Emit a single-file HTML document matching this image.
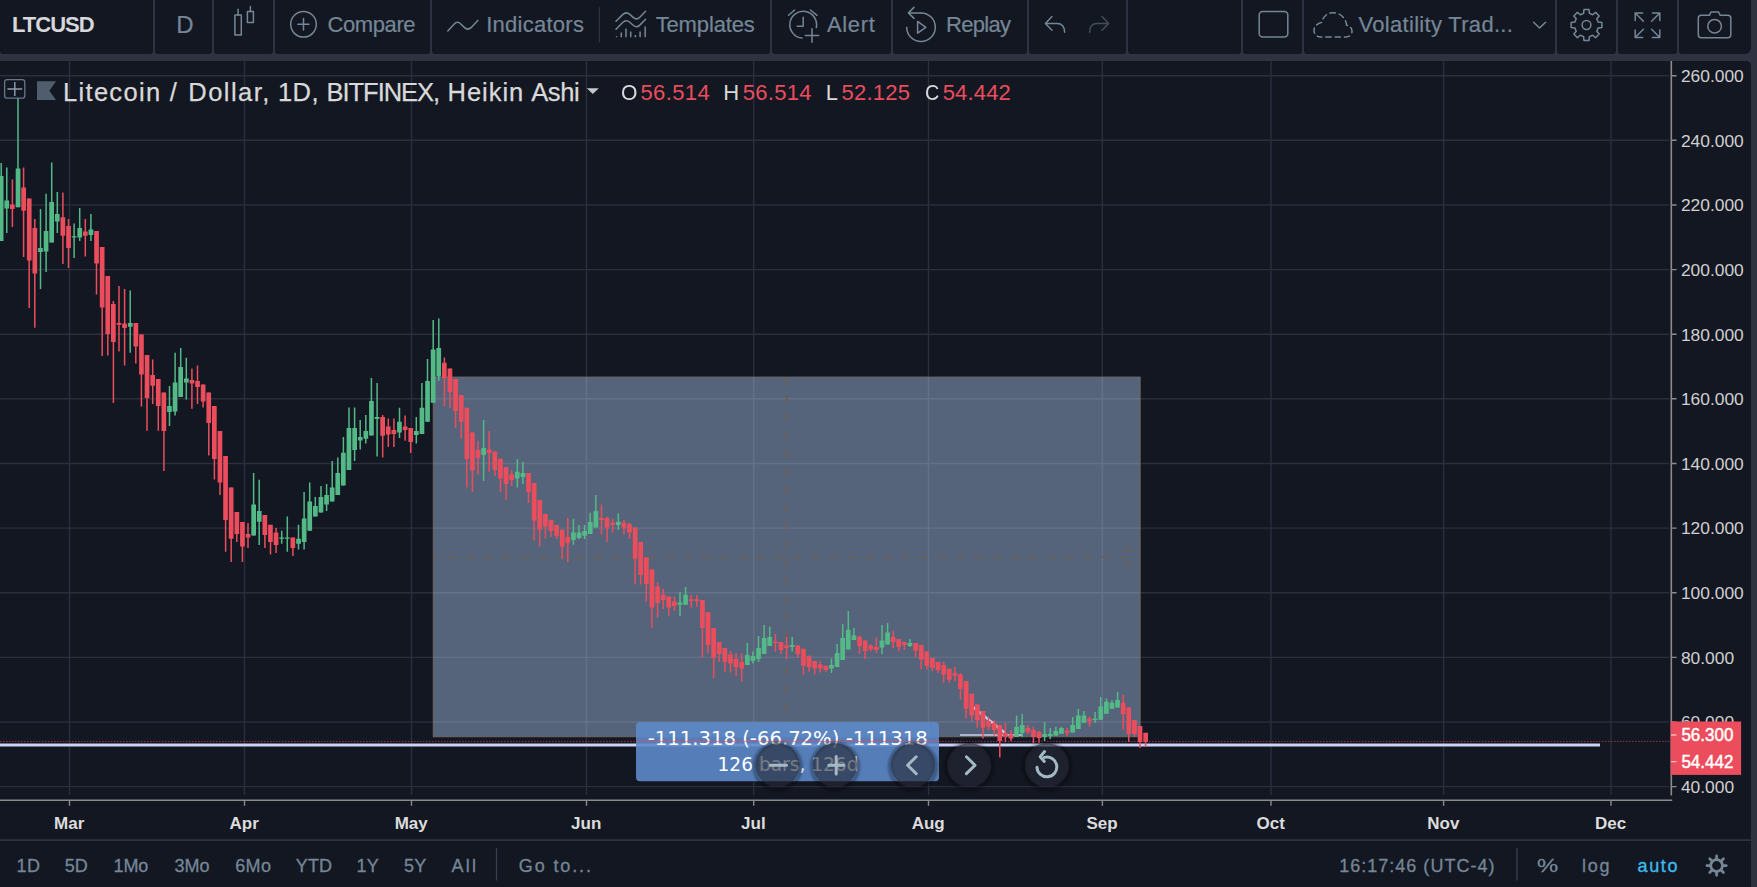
<!DOCTYPE html>
<html lang="en"><head><meta charset="utf-8"><title>LTCUSD chart</title>
<style>
html,body{margin:0;padding:0}
body{width:1757px;height:887px;background:#2f3241;position:relative;overflow:hidden;font-family:"Liberation Sans",sans-serif;}
.p{position:absolute;background:#131722;}
.tb{top:0;height:54px;border-radius:0 0 3px 3px;}
.t{position:absolute;white-space:nowrap;line-height:1;margin:0;padding:0;}
.tt{color:#758696;font-size:21px;-webkit-text-stroke:0.2px #758696;}
.bt{color:#758696;font-size:18px;-webkit-text-stroke:0.3px #758696;}
svg{position:absolute;left:0;top:0;overflow:visible}
.ic{fill:none;stroke:#758696;stroke-width:1.5;stroke-linecap:round;stroke-linejoin:round}
</style></head><body>

<div id="toolbar">
<div class="p tb" style="left:0.0px;width:152.5px;"></div>
<div class="p tb" style="left:154.5px;width:57.2px;"></div>
<div class="p tb" style="left:213.8px;width:58.8px;"></div>
<div class="p tb" style="left:275.0px;width:154.6px;"></div>
<div class="p tb" style="left:432.0px;width:337.5px;"></div>
<div class="p tb" style="left:772.0px;width:118.7px;"></div>
<div class="p tb" style="left:892.6px;width:134.2px;"></div>
<div class="p tb" style="left:1029.0px;width:96.9px;"></div>
<div class="p tb" style="left:1128.0px;width:112.8px;"></div>
<div class="p tb" style="left:1243.0px;width:59.0px;"></div>
<div class="p tb" style="left:1304.0px;width:251.0px;"></div>
<div class="p tb" style="left:1557.2px;width:58.6px;"></div>
<div class="p tb" style="left:1618.0px;width:59.0px;"></div>
<div class="p tb" style="left:1679.0px;width:72.0px;border-radius:0 0 6px 3px;"></div>
<span class="t " id="t_sym" style="left:12.00px;top:14.28px;font-size:22px;letter-spacing:-1.000px;color:#d6d8dc;font-weight:bold;">LTCUSD</span>
<span class="t tt" id="t_d" style="left:176.14px;top:12.58px;font-size:24px;">D</span>
<span class="t tt" id="t_cmp" style="left:327.53px;top:14.08px;font-size:22px;letter-spacing:-0.407px;">Compare</span>
<span class="t tt" id="t_ind" style="left:486.16px;top:14.08px;font-size:22px;letter-spacing:0.270px;">Indicators</span>
<span class="t tt" id="t_tpl" style="left:655.68px;top:14.08px;font-size:22px;letter-spacing:-0.145px;">Templates</span>
<span class="t tt" id="t_alr" style="left:827.00px;top:14.08px;font-size:22px;letter-spacing:0.648px;">Alert</span>
<span class="t tt" id="t_rep" style="left:946.11px;top:14.08px;font-size:22px;letter-spacing:-0.726px;">Replay</span>
<span class="t tt" id="t_vol" style="left:1358.52px;top:14.08px;font-size:22px;letter-spacing:0.306px;">Volatility Trad...</span>
<svg width="1757" height="60" viewBox="0 0 1757 60" class="ic">
<rect x="234.9" y="14.9" width="6.4" height="20.2"/><path d="M238.1 9.3V14.9M250.4 6.5V11.6"/><rect x="247.4" y="11.6" width="6" height="10.9"/>
<circle cx="303.5" cy="24.3" r="12.8"/><path d="M297.9 24.2H309M303.5 18.5V30"/>
<path d="M447.8 31 L454 24.2 Q457.3 20.6 460.8 24 L464.3 27.4 Q467.8 30.8 471.3 27.4 L477.8 20.4"/>
<path d="M599.4 7.7V41.8" stroke="#2f3241" stroke-width="1.3"/>
<path d="M616 21.3 L622.6 14.6 Q626.2 11.2 629.8 14.4 L633.2 17.4 Q636.6 20.4 639.8 17.2 L645.6 11.3"/>
<path d="M616 29.2 L622.6 22.5 Q626.2 19.1 629.8 22.3 L633.2 25.3 Q636.6 28.3 639.8 25.1 L645.6 19.2"/>
<path stroke-linecap="butt" d="M616.6 37.3V36.3M621.3 37.3V32.4M626.0 37.3V28.4M630.7 37.3V31.6M635.4 37.3V35.0M640.1 37.3V31.6M645.2 37.3V26.6"/>
<path d="M816.3 27.6 A13.4 13.4 0 1 0 802.0 38.1"/>
<path d="M803.2 17.2V26.2H797.2M788.5 15.3L794.6 10M810.4 10L817 15.3M805.3 35.6H818.8M812 28.8V42.2"/>
<path d="M921.0 12.9 A14.3 14.3 0 1 1 906.7 27.2"/>
<path d="M921 12.9H908.4M914 7.4L908.4 12.9L914 18.4M917.6 21.4V33.2L925.8 27.3Z"/>
<path d="M1052 16.6L1045.4 23.4L1052 30.2M1045.6 23.4H1057Q1064.6 23.4 1064.6 32.3"/>
<path stroke="#444d5c" d="M1102 16.6L1108.6 23.4L1102 30.2M1108.4 23.4H1097Q1089.6 23.4 1089.6 32.3"/>
<rect x="1259.2" y="11.4" width="28.6" height="25.6" rx="3.5"/>
<path stroke-dasharray="5.4 3.9" stroke-dashoffset="2" d="M1320.5 36.9 C1316.5 36.9 1314 34 1314 30.5 C1314 26.5 1317 23.5 1321.5 22.5 C1323 16.5 1327.5 12.7 1333 12.7 C1340 12.7 1346 18 1346.6 25.2 C1350 26 1352 28.5 1352 31.2 C1352 34.5 1349.5 36.9 1346.5 36.9 Z"/>
<path d="M1533.6 22.3L1539.6 28L1545.6 22.3"/>
<path d="M1583.61 13.35L1583.94 9.61L1589.06 9.61L1589.39 13.35L1592.69 14.72L1595.57 12.31L1599.19 15.93L1596.78 18.81L1598.15 22.11L1601.89 22.44L1601.89 27.56L1598.15 27.89L1596.78 31.19L1599.19 34.07L1595.57 37.69L1592.69 35.28L1589.39 36.65L1589.06 40.39L1583.94 40.39L1583.61 36.65L1580.31 35.28L1577.43 37.69L1573.81 34.07L1576.22 31.19L1574.85 27.89L1571.11 27.56L1571.11 22.44L1574.85 22.11L1576.22 18.81L1573.81 15.93L1577.43 12.31L1580.31 14.72Z"/><circle cx="1586.5" cy="25" r="4.4"/>
<path d="M1635.2 20.4V13H1642.6M1635.2 13L1643.4 21.2 M1652.4 13H1659.8V20.4M1659.8 13L1651.6 21.2 M1635.2 30.1V37.5H1642.6M1635.2 37.5L1643.4 29.3 M1652.4 37.5H1659.8V30.1M1659.8 37.5L1651.6 29.3"/>
<path d="M1701.3 15.3H1709.4L1711 12H1718.6L1720.2 15.3H1727.8Q1730.8 15.3 1730.8 18.3V34.8Q1730.8 37.8 1727.8 37.8H1701.3Q1698.3 37.8 1698.3 34.8V18.3Q1698.3 15.3 1701.3 15.3Z"/><circle cx="1714.6" cy="26.2" r="6.8"/>
</svg>
</div>
<div id="chart" class="p" style="left:0;top:61px;width:1751px;height:779px;border-radius:0 5px 0 0;"></div>
<div id="bottombar" class="p" style="left:0;top:841px;width:1751px;height:46px;"></div>
<svg id="chartsvg" width="1757" height="887" viewBox="0 0 1757 887">
<path d="M69.5 61V795M244.5 61V795M411.5 61V795M586.5 61V795M753.7 61V795M928.5 61V795M1102.4 61V795M1271.0 61V795M1443.6 61V795M1611.0 61V795M0 786.6H1669M0 722.0H1669M0 657.4H1669M0 592.7H1669M0 528.1H1669M0 463.5H1669M0 398.8H1669M0 334.2H1669M0 269.6H1669M0 205.0H1669M0 140.3H1669M0 75.7H1669" stroke="#2a2e3d" stroke-width="1.4" fill="none"/>
<rect x="433.2" y="377" width="707" height="359.8" fill="rgba(186,218,255,0.4)" stroke="rgba(125,110,95,0.75)" stroke-width="1"/>
<path d="M433.2 556.9H1140" stroke="#6a6058" stroke-width="1.9" stroke-dasharray="8 10.15" stroke-dashoffset="3" fill="none"/>
<path d="M786.6 377V722" stroke="#6a6058" stroke-width="1.9" stroke-dasharray="8 10.15" fill="none"/>
<path d="M1124 547.4L1131.5 551.9M1124 566.3L1131.5 561.9" stroke="#6a6058" stroke-width="1.9" fill="none"/>
<path d="M960 735H1022" stroke="#d4dbf3" stroke-width="1.6" fill="none" opacity="0.9"/><path d="M973 707L1004.5 732.5" stroke="#d4dbf3" stroke-width="2.4" fill="none" opacity="0.9"/>
<path d="M0 745H1600" stroke="#ccd2f3" stroke-width="3" fill="none"/>
<path d="M1.2 163.0V241.0M6.8 167.5V233.0M18.0 98.0V207.3M40.5 209.0V289.0M46.1 193.8V272.0M51.7 162.6V242.5M57.3 191.9V233.0M74.1 223.5V258.0M79.7 208.0V241.0M90.9 214.0V241.0M130.2 290.6V352.8M169.5 386.0V426.0M175.1 352.8V415.6M180.7 348.0V397.0M186.3 357.7V399.6M253.6 473.0V535.6M259.2 479.8V545.0M281.7 530.7V543.7M287.3 516.6V551.8M298.5 524.7V549.6M304.1 492.0V549.6M309.7 482.5V530.7M315.3 497.0V516.6M321.0 486.0V512.6M326.6 484.0V511.0M332.2 461.0V501.5M337.8 457.6V495.0M343.4 437.0V485.5M349.0 407.6V470.0M354.6 407.6V461.0M360.2 420.0V449.5M365.8 415.0V443.6M371.4 378.0V435.5M377.1 383.0V456.4M399.5 407.7V438.0M416.3 417.0V443.4M421.9 383.0V434.0M427.5 359.0V421.8M433.2 320.0V402.8M438.8 318.4V381.0M483.6 420.0V481.0M517.3 459.0V487.5M522.9 462.0V484.0M573.4 518.7V544.7M579.0 525.0V539.0M584.6 525.0V539.0M590.2 512.8V534.0M595.8 495.0V527.6M618.3 513.6V529.8M680.0 592.0V616.0M685.6 587.0V604.7M747.3 643.0V665.0M752.9 651.5V663.6M758.5 636.0V662.0M764.1 625.0V654.0M769.8 626.6V646.0M792.2 637.0V651.5M831.5 658.5V673.0M837.1 644.0V667.0M842.7 624.0V660.0M848.3 611.0V649.6M853.9 628.0V640.0M882.0 625.0V654.0M887.6 623.0V644.5M910.0 639.0V647.0M1016.6 715.4V737.0M1022.2 714.0V737.0M1044.6 722.0V741.0M1050.2 728.0V739.0M1055.9 726.7V736.0M1061.5 726.7V733.7M1072.7 717.0V732.5M1078.3 709.0V729.0M1083.9 711.0V722.7M1095.1 712.0V723.0M1100.7 697.0V719.8M1106.4 698.4V713.8M1112.0 700.0V708.8M1117.6 692.0V707.6" stroke="#53b987" stroke-width="1.5" fill="none"/>
<path d="M-1.2 176.0h4.7v65.0h-4.7zM4.4 200.5h4.7v8.1h-4.7zM15.7 168.6h4.7v38.7h-4.7zM38.1 247.9h4.7v4.1h-4.7zM43.7 231.0h4.7v20.4h-4.7zM49.3 201.9h4.7v40.6h-4.7zM54.9 214.0h4.7v7.6h-4.7zM71.8 236.2h4.7v1.4h-4.7zM77.4 228.0h4.7v9.6h-4.7zM88.6 229.5h4.7v5.4h-4.7zM127.9 323.0h4.7v3.8h-4.7zM167.1 406.0h4.7v6.0h-4.7zM172.7 382.6h4.7v28.9h-4.7zM178.3 367.0h4.7v30.0h-4.7zM184.0 378.5h4.7v4.1h-4.7zM251.3 504.4h4.7v31.2h-4.7zM256.9 511.0h4.7v10.8h-4.7zM279.3 537.5h4.7v1.3h-4.7zM284.9 537.5h4.7v1.3h-4.7zM296.2 538.8h4.7v4.9h-4.7zM301.8 518.5h4.7v23.5h-4.7zM307.4 501.5h4.7v29.2h-4.7zM313.0 506.0h4.7v10.6h-4.7zM318.6 497.0h4.7v15.6h-4.7zM324.2 495.0h4.7v9.4h-4.7zM329.8 487.4h4.7v14.1h-4.7zM335.4 473.0h4.7v22.0h-4.7zM341.0 452.8h4.7v32.7h-4.7zM346.6 428.0h4.7v42.0h-4.7zM352.3 428.0h4.7v22.0h-4.7zM357.9 437.0h4.7v3.6h-4.7zM363.5 431.0h4.7v7.7h-4.7zM369.1 401.0h4.7v34.5h-4.7zM374.7 417.0h4.7v2.0h-4.7zM397.1 421.8h4.7v10.8h-4.7zM414.0 431.0h4.7v4.0h-4.7zM419.6 407.7h4.7v26.3h-4.7zM425.2 381.0h4.7v40.8h-4.7zM430.8 349.5h4.7v53.3h-4.7zM436.4 348.0h4.7v28.6h-4.7zM481.3 448.0h4.7v7.0h-4.7zM514.9 471.8h4.7v6.8h-4.7zM520.6 473.0h4.7v4.0h-4.7zM571.1 532.5h4.7v7.5h-4.7zM576.7 532.5h4.7v5.5h-4.7zM582.3 531.0h4.7v4.8h-4.7zM587.9 522.0h4.7v12.0h-4.7zM593.5 510.9h4.7v16.7h-4.7zM615.9 521.7h4.7v3.3h-4.7zM677.6 602.6h4.7v2.1h-4.7zM683.2 594.7h4.7v10.0h-4.7zM745.0 655.0h4.7v10.0h-4.7zM750.6 656.0h4.7v5.0h-4.7zM756.2 648.0h4.7v11.0h-4.7zM761.8 638.0h4.7v16.0h-4.7zM767.4 637.0h4.7v9.0h-4.7zM789.8 645.0h4.7v2.0h-4.7zM829.1 665.0h4.7v3.5h-4.7zM834.7 653.0h4.7v14.0h-4.7zM840.3 638.0h4.7v22.0h-4.7zM845.9 629.8h4.7v19.8h-4.7zM851.6 635.5h4.7v4.5h-4.7zM879.6 640.6h4.7v6.9h-4.7zM885.2 632.5h4.7v12.0h-4.7zM907.6 643.0h4.7v3.0h-4.7zM1014.2 726.7h4.7v10.3h-4.7zM1019.9 725.0h4.7v8.0h-4.7zM1042.3 734.0h4.7v3.0h-4.7zM1047.9 734.0h4.7v2.0h-4.7zM1053.5 731.0h4.7v4.5h-4.7zM1059.1 728.0h4.7v5.7h-4.7zM1070.3 725.0h4.7v7.5h-4.7zM1076.0 715.4h4.7v13.6h-4.7zM1081.6 715.4h4.7v7.3h-4.7zM1092.8 718.6h4.7v1.4h-4.7zM1098.4 706.4h4.7v13.4h-4.7zM1104.0 701.8h4.7v12.0h-4.7zM1109.6 702.8h4.7v6.0h-4.7zM1115.2 700.0h4.7v7.6h-4.7z" fill="#53b987"/>
<path d="M12.4 179.4V227.0M23.6 167.5V257.0M29.2 198.6V308.0M34.8 219.0V327.7M62.9 192.4V264.0M68.5 219.0V268.0M85.3 219.0V256.5M96.5 231.0V294.6M102.2 247.0V356.0M107.8 276.0V355.5M113.4 301.0V403.0M119.0 286.0V351.5M124.6 289.0V365.5M135.8 323.0V363.6M141.4 334.4V406.4M147.0 355.0V430.7M152.7 359.6V404.0M158.3 379.0V430.7M163.9 392.6V471.0M191.9 368.5V408.8M197.5 365.5V404.0M203.1 384.5V407.5M208.8 392.6V455.6M214.4 406.0V479.5M220.0 431.0V495.0M225.6 456.0V551.8M231.2 487.4V562.0M236.8 512.0V542.0M242.4 522.0V562.0M248.0 523.0V548.0M264.9 515.0V548.0M270.5 524.7V554.5M276.1 528.0V553.0M292.9 537.5V555.9M382.7 415.0V457.5M388.3 418.5V447.0M393.9 418.5V447.0M405.1 415.5V440.7M410.7 428.0V452.9M444.4 357.6V406.0M450.0 368.5V407.7M455.6 379.0V428.0M461.2 395.0V438.8M466.8 407.7V487.5M472.4 432.6V492.0M478.0 440.7V474.5M489.2 431.0V471.8M494.9 451.5V475.9M500.5 458.8V492.0M506.1 467.0V499.7M511.7 470.0V486.0M528.5 473.0V503.0M534.1 483.0V540.6M539.7 500.0V546.6M545.4 514.0V538.5M551.0 520.0V537.0M556.6 525.0V539.0M562.2 529.8V558.8M567.8 518.0V562.0M601.5 504.6V534.4M607.1 516.8V542.0M612.7 518.7V532.5M623.9 520.0V534.4M629.5 522.8V539.0M635.1 527.6V584.5M640.7 542.0V584.5M646.3 557.4V601.5M651.9 569.6V627.7M657.6 582.3V617.5M663.2 588.5V609.0M668.8 596.6V616.0M674.4 596.6V611.0M691.2 595.0V607.5M696.8 595.0V607.0M702.4 600.0V657.8M708.0 612.3V653.3M713.7 628.0V678.0M719.3 642.0V662.0M724.9 648.0V671.8M730.5 651.0V672.6M736.1 653.0V676.0M741.7 653.6V681.5M775.4 634.0V651.5M781.0 642.0V654.0M786.6 637.0V659.0M797.8 645.5V657.7M803.4 648.8V674.7M809.0 655.8V671.8M814.6 661.0V674.5M820.2 661.0V672.6M825.9 665.8V671.8M859.5 635.5V654.0M865.1 640.6V659.0M870.7 644.0V651.5M876.3 637.5V653.0M893.2 631.0V648.0M898.8 639.0V651.5M904.4 642.0V650.0M915.6 643.0V657.0M921.2 645.0V669.6M926.8 651.5V669.6M932.4 658.0V671.0M938.1 662.0V673.0M943.7 662.0V682.7M949.3 668.8V682.7M954.9 667.0V681.0M960.5 673.0V699.6M966.1 681.0V718.6M971.7 693.7V721.5M977.3 704.4V727.8M982.9 711.0V738.4M988.5 717.0V730.6M994.2 720.0V735.5M999.8 725.0V757.4M1005.4 723.0V742.0M1011.0 730.0V741.0M1027.8 725.0V734.0M1033.4 726.7V743.5M1039.0 731.0V743.5M1067.1 727.8V736.0M1089.5 716.8V726.7M1123.2 695.0V729.6M1128.8 707.6V742.0M1134.4 720.0V737.0M1140.0 726.0V748.0M1145.6 732.8V746.7" stroke="#eb4d5c" stroke-width="1.5" fill="none"/>
<path d="M10.0 204.6h4.7v4.4h-4.7zM21.3 187.5h4.7v23.3h-4.7zM26.9 198.6h4.7v62.0h-4.7zM32.5 228.0h4.7v45.6h-4.7zM60.5 217.3h4.7v18.4h-4.7zM66.2 226.0h4.7v21.9h-4.7zM83.0 231.6h4.7v4.1h-4.7zM94.2 231.0h4.7v32.5h-4.7zM99.8 247.0h4.7v60.6h-4.7zM105.4 276.0h4.7v58.0h-4.7zM111.0 304.0h4.7v38.0h-4.7zM116.6 323.0h4.7v1.7h-4.7zM122.2 323.6h4.7v4.4h-4.7zM133.5 323.0h4.7v23.6h-4.7zM139.1 334.4h4.7v40.1h-4.7zM144.7 355.0h4.7v43.0h-4.7zM150.3 375.0h4.7v10.8h-4.7zM155.9 379.0h4.7v27.0h-4.7zM161.5 392.6h4.7v38.4h-4.7zM189.6 379.9h4.7v3.5h-4.7zM195.2 381.0h4.7v6.0h-4.7zM200.8 384.5h4.7v17.0h-4.7zM206.4 392.6h4.7v30.4h-4.7zM212.0 406.0h4.7v53.0h-4.7zM217.6 431.0h4.7v51.5h-4.7zM223.2 456.0h4.7v64.0h-4.7zM228.8 487.4h4.7v51.4h-4.7zM234.5 512.0h4.7v22.0h-4.7zM240.1 522.0h4.7v24.4h-4.7zM245.7 534.0h4.7v3.5h-4.7zM262.5 515.0h4.7v20.0h-4.7zM268.1 524.7h4.7v17.3h-4.7zM273.7 532.6h4.7v12.4h-4.7zM290.5 537.5h4.7v10.5h-4.7zM380.3 416.9h4.7v18.9h-4.7zM385.9 426.6h4.7v7.9h-4.7zM391.5 429.9h4.7v4.1h-4.7zM402.8 426.4h4.7v3.5h-4.7zM408.4 428.0h4.7v14.0h-4.7zM442.0 362.8h4.7v15.2h-4.7zM447.6 368.5h4.7v23.5h-4.7zM453.2 379.0h4.7v32.0h-4.7zM458.9 395.0h4.7v26.8h-4.7zM464.5 407.7h4.7v51.3h-4.7zM470.1 432.6h4.7v37.9h-4.7zM475.7 450.0h4.7v7.7h-4.7zM486.9 449.6h4.7v3.3h-4.7zM492.5 451.5h4.7v18.5h-4.7zM498.1 458.8h4.7v19.8h-4.7zM503.7 467.0h4.7v17.0h-4.7zM509.3 474.5h4.7v5.5h-4.7zM526.2 473.0h4.7v19.0h-4.7zM531.8 483.0h4.7v37.5h-4.7zM537.4 500.0h4.7v29.6h-4.7zM543.0 514.0h4.7v12.5h-4.7zM548.6 520.0h4.7v11.0h-4.7zM554.2 525.0h4.7v10.8h-4.7zM559.8 529.8h4.7v16.8h-4.7zM565.4 537.0h4.7v6.0h-4.7zM599.1 518.0h4.7v2.0h-4.7zM604.7 518.0h4.7v9.6h-4.7zM610.3 523.0h4.7v2.0h-4.7zM621.5 522.8h4.7v4.8h-4.7zM627.1 524.0h4.7v8.5h-4.7zM632.8 527.6h4.7v31.2h-4.7zM638.4 542.0h4.7v33.0h-4.7zM644.0 557.4h4.7v26.6h-4.7zM649.6 569.6h4.7v37.9h-4.7zM655.2 586.6h4.7v16.3h-4.7zM660.8 594.7h4.7v5.2h-4.7zM666.4 596.6h4.7v10.9h-4.7zM672.0 601.5h4.7v4.5h-4.7zM688.9 599.3h4.7v1.7h-4.7zM694.5 599.3h4.7v1.7h-4.7zM700.1 600.0h4.7v28.0h-4.7zM705.7 612.3h4.7v32.7h-4.7zM711.3 628.0h4.7v29.7h-4.7zM716.9 642.0h4.7v12.0h-4.7zM722.5 648.0h4.7v14.0h-4.7zM728.1 654.5h4.7v9.1h-4.7zM733.7 659.0h4.7v8.0h-4.7zM739.4 662.0h4.7v6.5h-4.7zM773.0 641.5h4.7v1.5h-4.7zM778.6 642.0h4.7v8.0h-4.7zM784.2 645.5h4.7v2.5h-4.7zM795.5 645.5h4.7v8.5h-4.7zM801.1 648.8h4.7v17.0h-4.7zM806.7 655.8h4.7v11.2h-4.7zM812.3 661.0h4.7v7.5h-4.7zM817.9 664.5h4.7v4.0h-4.7zM823.5 665.8h4.7v4.2h-4.7zM857.2 636.9h4.7v9.1h-4.7zM862.8 640.6h4.7v10.4h-4.7zM868.4 645.5h4.7v4.1h-4.7zM874.0 647.0h4.7v3.0h-4.7zM890.8 637.0h4.7v5.0h-4.7zM896.4 639.0h4.7v8.0h-4.7zM902.0 642.0h4.7v3.0h-4.7zM913.3 643.0h4.7v7.6h-4.7zM918.9 645.0h4.7v14.6h-4.7zM924.5 651.5h4.7v14.5h-4.7zM930.1 658.0h4.7v10.0h-4.7zM935.7 662.0h4.7v8.0h-4.7zM941.3 665.0h4.7v9.6h-4.7zM946.9 668.8h4.7v11.0h-4.7zM952.5 673.0h4.7v2.8h-4.7zM958.1 674.6h4.7v14.4h-4.7zM963.8 681.0h4.7v27.8h-4.7zM969.4 693.7h4.7v21.7h-4.7zM975.0 704.4h4.7v15.6h-4.7zM980.6 711.0h4.7v16.8h-4.7zM986.2 721.0h4.7v5.7h-4.7zM991.8 723.0h4.7v7.0h-4.7zM997.4 725.0h4.7v16.0h-4.7zM1003.0 733.0h4.7v3.5h-4.7zM1008.6 734.4h4.7v4.0h-4.7zM1025.5 728.0h4.7v3.8h-4.7zM1031.1 730.0h4.7v7.0h-4.7zM1036.7 732.0h4.7v6.0h-4.7zM1064.7 730.8h4.7v2.0h-4.7zM1087.2 718.6h4.7v2.9h-4.7zM1120.8 703.0h4.7v11.0h-4.7zM1126.4 707.6h4.7v26.4h-4.7zM1132.1 720.0h4.7v14.0h-4.7zM1137.7 726.0h4.7v16.0h-4.7zM1143.3 732.8h4.7v9.2h-4.7z" fill="#eb4d5c"/>
<path d="M0 741.4H1671" stroke="#eb4d5c" stroke-width="0.9" stroke-dasharray="1.5 1.5" fill="none" opacity="0.65"/>
<path d="M1671.3 61V795.5M0 800.2H1672.2" stroke="#8b8b8b" stroke-width="1.6" fill="none"/>
<path d="M1672 786.6H1676.6M1672 722.0H1676.6M1672 657.4H1676.6M1672 592.7H1676.6M1672 528.1H1676.6M1672 463.5H1676.6M1672 398.8H1676.6M1672 334.2H1676.6M1672 269.6H1676.6M1672 205.0H1676.6M1672 140.3H1676.6M1672 75.7H1676.6M69.5 801V805.8M244.5 801V805.8M411.5 801V805.8M586.5 801V805.8M753.7 801V805.8M928.5 801V805.8M1102.4 801V805.8M1271.0 801V805.8M1443.6 801V805.8M1611.0 801V805.8" stroke="#8b8b8b" stroke-width="1.4" fill="none"/>
<text x="1680.9" y="792.9" font-size="17.4" fill="#d0d0d0" font-family="Liberation Sans, sans-serif">40.000</text>
<text x="1680.9" y="728.3" font-size="17.4" fill="#d0d0d0" font-family="Liberation Sans, sans-serif">60.000</text>
<text x="1680.9" y="663.7" font-size="17.4" fill="#d0d0d0" font-family="Liberation Sans, sans-serif">80.000</text>
<text x="1680.9" y="599.0" font-size="17.4" fill="#d0d0d0" font-family="Liberation Sans, sans-serif">100.000</text>
<text x="1680.9" y="534.4" font-size="17.4" fill="#d0d0d0" font-family="Liberation Sans, sans-serif">120.000</text>
<text x="1680.9" y="469.8" font-size="17.4" fill="#d0d0d0" font-family="Liberation Sans, sans-serif">140.000</text>
<text x="1680.9" y="405.1" font-size="17.4" fill="#d0d0d0" font-family="Liberation Sans, sans-serif">160.000</text>
<text x="1680.9" y="340.5" font-size="17.4" fill="#d0d0d0" font-family="Liberation Sans, sans-serif">180.000</text>
<text x="1680.9" y="275.9" font-size="17.4" fill="#d0d0d0" font-family="Liberation Sans, sans-serif">200.000</text>
<text x="1680.9" y="211.3" font-size="17.4" fill="#d0d0d0" font-family="Liberation Sans, sans-serif">220.000</text>
<text x="1680.9" y="146.6" font-size="17.4" fill="#d0d0d0" font-family="Liberation Sans, sans-serif">240.000</text>
<text x="1680.9" y="82.0" font-size="17.4" fill="#d0d0d0" font-family="Liberation Sans, sans-serif">260.000</text>
<rect x="1670.6" y="721.5" width="70.5" height="53.4" fill="#eb4d5c"/>
<path d="M1671 735H1676.4M1671 761.6H1676.4" stroke="#f3b9bf" stroke-width="1.4"/>
<text x="1681.4" y="740.9" font-size="17.6" fill="#fff" stroke="#fff" stroke-width="0.45" font-family="Liberation Sans, sans-serif" textLength="52" lengthAdjust="spacingAndGlyphs">56.300</text>
<text x="1681.4" y="767.5" font-size="17.6" fill="#fff" stroke="#fff" stroke-width="0.45" font-family="Liberation Sans, sans-serif" textLength="52" lengthAdjust="spacingAndGlyphs">54.442</text>
<text x="69.2" y="829" font-size="17" font-weight="bold" fill="#dcdcdc" text-anchor="middle" font-family="Liberation Sans, sans-serif">Mar</text>
<text x="244.2" y="829" font-size="17" font-weight="bold" fill="#dcdcdc" text-anchor="middle" font-family="Liberation Sans, sans-serif">Apr</text>
<text x="411.2" y="829" font-size="17" font-weight="bold" fill="#dcdcdc" text-anchor="middle" font-family="Liberation Sans, sans-serif">May</text>
<text x="586.2" y="829" font-size="17" font-weight="bold" fill="#dcdcdc" text-anchor="middle" font-family="Liberation Sans, sans-serif">Jun</text>
<text x="753.4" y="829" font-size="17" font-weight="bold" fill="#dcdcdc" text-anchor="middle" font-family="Liberation Sans, sans-serif">Jul</text>
<text x="928.2" y="829" font-size="17" font-weight="bold" fill="#dcdcdc" text-anchor="middle" font-family="Liberation Sans, sans-serif">Aug</text>
<text x="1102.1" y="829" font-size="17" font-weight="bold" fill="#dcdcdc" text-anchor="middle" font-family="Liberation Sans, sans-serif">Sep</text>
<text x="1270.7" y="829" font-size="17" font-weight="bold" fill="#dcdcdc" text-anchor="middle" font-family="Liberation Sans, sans-serif">Oct</text>
<text x="1443.3" y="829" font-size="17" font-weight="bold" fill="#dcdcdc" text-anchor="middle" font-family="Liberation Sans, sans-serif">Nov</text>
<text x="1610.7" y="829" font-size="17" font-weight="bold" fill="#dcdcdc" text-anchor="middle" font-family="Liberation Sans, sans-serif">Dec</text>
<rect x="636" y="722" width="303" height="59.3" rx="4" fill="rgba(93,138,202,0.9)"/>
<text x="787.7" y="744.8" font-size="19" fill="#fff" text-anchor="middle" font-family="DejaVu Sans, sans-serif" textLength="280" lengthAdjust="spacingAndGlyphs">-111.318 (-66.72%) -111318</text>
<text x="788" y="771.4" font-size="19" fill="#fff" text-anchor="middle" font-family="DejaVu Sans, sans-serif" textLength="141" lengthAdjust="spacingAndGlyphs">126 bars, 126d</text>
<path d="M636 741.4H939" stroke="#eb4d5c" stroke-width="0.9" fill="none" opacity="0.7"/>
<defs><filter id="bsh" x="-30%" y="-30%" width="160%" height="160%"><feGaussianBlur stdDeviation="1.6"/></filter></defs>
<circle cx="777.6" cy="766.4" r="23.2" fill="none" stroke="rgba(0,0,0,0.42)" stroke-width="3" filter="url(#bsh)"/>
<circle cx="777.6" cy="765.2" r="22" fill="rgba(37,41,54,0.62)"/>
<circle cx="835.0" cy="766.4" r="23.2" fill="none" stroke="rgba(0,0,0,0.42)" stroke-width="3" filter="url(#bsh)"/>
<circle cx="835.0" cy="765.2" r="22" fill="rgba(37,41,54,0.62)"/>
<circle cx="913.0" cy="766.4" r="23.2" fill="none" stroke="rgba(0,0,0,0.42)" stroke-width="3" filter="url(#bsh)"/>
<circle cx="913.0" cy="765.2" r="22" fill="rgba(37,41,54,0.62)"/>
<circle cx="969.2" cy="766.4" r="23.2" fill="none" stroke="rgba(0,0,0,0.42)" stroke-width="3" filter="url(#bsh)"/>
<circle cx="969.2" cy="765.2" r="22" fill="rgba(37,41,54,0.62)"/>
<circle cx="1047.0" cy="766.4" r="23.2" fill="none" stroke="rgba(0,0,0,0.42)" stroke-width="3" filter="url(#bsh)"/>
<circle cx="1047.0" cy="765.2" r="22" fill="rgba(37,41,54,0.62)"/>
<g fill="none" stroke="#a3bac5" stroke-width="3" stroke-linecap="round" stroke-linejoin="round">
<path d="M770.5 765.2H786.5"/><path d="M828.8 765.2H843.6M836.2 756.4V774"/>
<path d="M916.2 756.8L907.6 765.2L916.2 773.6M966.4 756.8L975 765.2L966.4 773.6"/>
<path d="M1044.3 757.4 A9.9 9.9 0 1 1 1037.0 767.3"/>
<path d="M1044.6 751.6L1040.2 756.7L1044.3 761.4"/>
</g>
</svg>
<div id="legend">
<svg width="700" height="110" viewBox="0 0 700 110"><rect x="4.6" y="79.6" width="20.2" height="18.6" rx="2.5" fill="none" stroke="#66778a" stroke-width="1.3"/><path d="M7.4 89H22.2M14.8 82V96" stroke="#8fa0b0" stroke-width="1.4" fill="none"/><path d="M37 81.3H56L49.4 90.7L56 100.1H37Z" fill="#4f5d6c"/><path d="M586.8 88.2H598.8L592.8 94Z" fill="#c8c8c8"/></svg>
<span class="t " id="t_leg0" style="left:63.01px;top:79.51px;font-size:25.5px;letter-spacing:1.315px;color:#d9d9d9;-webkit-text-stroke:0.25px #d9d9d9;">Litecoin</span>
<span class="t " id="t_leg1" style="left:169.76px;top:79.51px;font-size:25.5px;color:#d9d9d9;-webkit-text-stroke:0.25px #d9d9d9;">/</span>
<span class="t " id="t_leg2" style="left:188.34px;top:79.51px;font-size:25.5px;letter-spacing:1.446px;color:#d9d9d9;-webkit-text-stroke:0.25px #d9d9d9;">Dollar,</span>
<span class="t " id="t_leg3" style="left:277.88px;top:79.51px;font-size:25.5px;letter-spacing:0.514px;color:#d9d9d9;-webkit-text-stroke:0.25px #d9d9d9;">1D,</span>
<span class="t " id="t_leg4" style="left:326.51px;top:79.51px;font-size:25.5px;letter-spacing:-1.022px;color:#d9d9d9;-webkit-text-stroke:0.25px #d9d9d9;">BITFINEX,</span>
<span class="t " id="t_leg5" style="left:447.54px;top:79.51px;font-size:25.5px;letter-spacing:0.976px;color:#d9d9d9;-webkit-text-stroke:0.25px #d9d9d9;">Heikin</span>
<span class="t " id="t_leg6" style="left:531.25px;top:79.51px;font-size:25.5px;letter-spacing:-0.398px;color:#d9d9d9;-webkit-text-stroke:0.25px #d9d9d9;">Ashi</span>
<span class="t " id="t_o" style="left:621.00px;top:82.38px;font-size:22px;color:#d9d9d9;transform-origin:0 0;transform:scaleX(0.96);">O</span>
<span class="t " id="t_ov" style="left:640.50px;top:82.38px;font-size:22px;letter-spacing:0.387px;color:#eb4d5c;">56.514</span>
<span class="t " id="t_h" style="left:723.21px;top:82.38px;font-size:22px;color:#d9d9d9;">H</span>
<span class="t " id="t_hv" style="left:742.68px;top:82.38px;font-size:22px;letter-spacing:0.320px;color:#eb4d5c;">56.514</span>
<span class="t " id="t_l" style="left:825.71px;top:82.38px;font-size:22px;color:#d9d9d9;">L</span>
<span class="t " id="t_lv" style="left:841.50px;top:82.38px;font-size:22px;letter-spacing:0.243px;color:#eb4d5c;">52.125</span>
<span class="t " id="t_c" style="left:925.00px;top:82.38px;font-size:22px;color:#d9d9d9;transform-origin:0 0;transform:scaleX(0.9);">C</span>
<span class="t " id="t_cv" style="left:942.68px;top:82.38px;font-size:22px;letter-spacing:0.172px;color:#eb4d5c;">54.442</span>
</div>
<div id="bottom">
<svg width="1757" height="887" viewBox="0 0 1757 887"><path d="M0 840H1751" stroke="#2f3241" stroke-width="1.6"/><path d="M496.5 848V880.6M1517 848V880.6" stroke="#3a3f50" stroke-width="1.3"/>
<circle cx="1716.6" cy="865.6" r="5.9" fill="none" stroke="#758696" stroke-width="2.8"/><path d="M1723.20 865.60L1726.30 865.60M1721.27 870.27L1723.46 872.46M1716.60 872.20L1716.60 875.30M1711.93 870.27L1709.74 872.46M1710.00 865.60L1706.90 865.60M1711.93 860.93L1709.74 858.74M1716.60 859.00L1716.60 855.90M1721.27 860.93L1723.46 858.74" stroke="#758696" stroke-width="2.7" stroke-linecap="round" fill="none"/>
</svg>
<span class="t bt" id="b1" style="left:16.49px;top:856.86px;font-size:18px;letter-spacing:0.446px;">1D</span>
<span class="t bt" id="b2" style="left:64.86px;top:856.86px;font-size:18px;letter-spacing:-0.078px;">5D</span>
<span class="t bt" id="b3" style="left:113.56px;top:856.86px;font-size:18px;letter-spacing:-0.134px;">1Mo</span>
<span class="t bt" id="b4" style="left:174.40px;top:856.86px;font-size:18px;letter-spacing:0.079px;">3Mo</span>
<span class="t bt" id="b5" style="left:235.13px;top:856.86px;font-size:18px;letter-spacing:0.485px;">6Mo</span>
<span class="t bt" id="b6" style="left:295.66px;top:856.86px;font-size:18px;letter-spacing:0.216px;">YTD</span>
<span class="t bt" id="b7" style="left:356.49px;top:856.86px;font-size:18px;letter-spacing:0.369px;">1Y</span>
<span class="t bt" id="b8" style="left:403.90px;top:856.86px;font-size:18px;letter-spacing:0.452px;">5Y</span>
<span class="t bt" id="b9" style="left:451.55px;top:856.86px;font-size:18px;letter-spacing:2.284px;">All</span>
<span class="t bt" id="b10" style="left:518.87px;top:856.86px;font-size:18px;letter-spacing:1.863px;">Go to...</span>
<span class="t bt" id="b11" style="left:1339.16px;top:856.86px;font-size:18px;letter-spacing:1.016px;">16:17:46 (UTC-4)</span>
<span class="t bt" id="b12" style="left:1537.06px;top:856.86px;font-size:18px;transform-origin:0 0;transform:scaleX(1.33);">%</span>
<span class="t bt" id="b13" style="left:1582.00px;top:856.86px;font-size:18px;letter-spacing:1.759px;">log</span>
<span class="t bt" id="b14" style="left:1637.47px;top:856.86px;font-size:18px;letter-spacing:1.666px;color:#3db9eb;-webkit-text-stroke:0.35px #3db9eb;">auto</span>
</div>
</body></html>
